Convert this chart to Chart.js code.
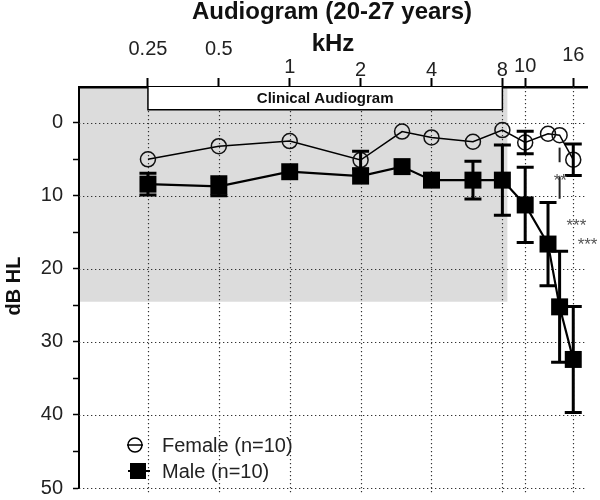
<!DOCTYPE html>
<html><head><meta charset="utf-8">
<script src="https://cdn.jsdelivr.net/npm/chart.js@4/dist/chart.umd.min.js"></script>
<style>html,body{margin:0;padding:0;background:#fff}canvas{display:block}</style>
</head><body>
<canvas id="c" width="600" height="500"></canvas>
<script>
// ---- data ----
const frequencies = [0.25, 0.5, 1, 2, 3, 4, 6, 8, 10, 12.5, 14, 16];
const femaleValues = [5.0, 3.2, 2.5, 5.1, 1.2, 2.0, 2.6, 1.0, 2.7, 1.5, 1.7, 5.05];
const femaleErrors = [0, 0, 0, 1.2, 0, 0, 0, 0, 1.55, 0, 0, 2.15];
const maleValues = [8.4, 8.7, 6.7, 7.3, 6.0, 7.85, 7.85, 7.85, 11.25, 16.6, 25.2, 32.4];
const maleErrors = [1.5, 1.3, 0, 0, 0, 0, 2.6, 4.8, 5.15, 5.7, 7.6, 7.25];
const xTickValues = [0.25, 0.5, 1, 2, 4, 8, 10, 16];
const xTickLabels = ['0.25', '0.5', '1', '2', '4', '8', '10', '16'];
const yTickValues = [0, 5, 10, 15, 20, 25, 30, 35, 40, 45, 50];
const yGridValues = [0, 10, 20, 30, 40, 50];
const clinicalRange = [0.25, 8];        // kHz
const clinicalBoxBottom = -1.8;         // dB HL
const shadedFreqMax = 8.4;              // kHz
const shadedDbMax = 24.5;               // dB HL
const sigLineFreq = [14, 14];
const sigLineFrom = [3.4, 7.4];
const sigLineTo = [5.4, 10.4];
const sigTextFreq = [14.1, 16.5, 18.4];
const sigTextDb = [7.3, 13.5, 16.1];
const sigTextLabels = ['**', '***', '***'];

const FONT = '"Liberation Sans", Arial, Helvetica, sans-serif';

// label vertical stagger (baseline y in px) for the top axis labels
const topLabelBaseline = {'0.25': 55, '0.5': 55, '1': 73, '2': 76, '4': 76, '8': 76, '10': 72, '16': 61};

function dotted(ctx) {
  ctx.strokeStyle = '#333';
  ctx.lineWidth = 1.2;
  ctx.setLineDash([1.3, 2.7]);
}

const drawPlugin = {
  id: 'audiogram',
  beforeDraw(chart) {
    const {ctx, chartArea: a, scales: {x, y}} = chart;
    ctx.save();
    ctx.fillStyle = '#fff';
    ctx.fillRect(0, 0, chart.width, chart.height);
    ctx.fillStyle = '#dcdcdc';
    const xr = x.getPixelForValue(shadedFreqMax);
    const yb = y.getPixelForValue(shadedDbMax);
    ctx.fillRect(a.left, a.top, xr - a.left, yb - a.top);
    ctx.restore();
  },
  beforeDatasetsDraw(chart) {
    const {ctx, chartArea: a, scales: {x, y}} = chart;
    ctx.save();
    dotted(ctx);
    xTickValues.forEach(v => {
      const px = Math.round(x.getPixelForValue(v)) + 0.5;
      ctx.beginPath(); ctx.moveTo(px, a.top); ctx.lineTo(px, a.bottom + 6); ctx.stroke();
    });
    yGridValues.forEach(v => {
      const py = Math.round(y.getPixelForValue(v)) + 0.5;
      ctx.beginPath(); ctx.moveTo(a.left, py); ctx.lineTo(a.right - 2, py); ctx.stroke();
    });
    ctx.setLineDash([]);
    // clinical audiogram box
    const x0 = x.getPixelForValue(clinicalRange[0]);
    const x1 = x.getPixelForValue(clinicalRange[1]);
    const yb = y.getPixelForValue(clinicalBoxBottom);
    ctx.fillStyle = '#fff';
    ctx.fillRect(x0, a.top, x1 - x0, yb - a.top);
    ctx.strokeStyle = '#000';
    ctx.lineWidth = 1.5;
    ctx.beginPath();
    ctx.moveTo(x0, a.top); ctx.lineTo(x0, yb); ctx.lineTo(x1, yb); ctx.lineTo(x1, a.top);
    ctx.stroke();
    ctx.fillStyle = '#111';
    ctx.font = 'bold 15px ' + FONT;
    ctx.textAlign = 'center';
    ctx.textBaseline = 'middle';
    ctx.fillText('Clinical Audiogram', (x0 + x1) / 2, (a.top + yb) / 2 + 1);
    ctx.restore();
  },
  afterDatasetsDraw(chart) {
    const {ctx, scales: {x, y}} = chart;
    ctx.save();
    // error bars
    const bars = [[femaleValues, femaleErrors], [maleValues, maleErrors]];
    ctx.strokeStyle = '#000';
    ctx.lineWidth = 3;
    bars.forEach(([vals, errs]) => {
      frequencies.forEach((f, i) => {
        if (!errs[i]) return;
        const px = x.getPixelForValue(f);
        const ya = y.getPixelForValue(vals[i] - errs[i]);
        const yb = y.getPixelForValue(vals[i] + errs[i]);
        ctx.beginPath();
        ctx.moveTo(px, ya); ctx.lineTo(px, yb);
        ctx.moveTo(px - 8.5, ya); ctx.lineTo(px + 8.5, ya);
        ctx.moveTo(px - 8.5, yb); ctx.lineTo(px + 8.5, yb);
        ctx.stroke();
      });
    });
    // significance marks
    ctx.strokeStyle = '#222';
    ctx.lineWidth = 2;
    sigLineFreq.forEach((f, i) => {
      const px = x.getPixelForValue(f);
      ctx.beginPath();
      ctx.moveTo(px, y.getPixelForValue(sigLineFrom[i]));
      ctx.lineTo(px, y.getPixelForValue(sigLineTo[i]));
      ctx.stroke();
    });
    ctx.fillStyle = '#555';
    ctx.font = '17px ' + FONT;
    ctx.textAlign = 'center';
    ctx.textBaseline = 'alphabetic';
    sigTextLabels.forEach((t, i) => {
      ctx.fillText(t, x.getPixelForValue(sigTextFreq[i]), y.getPixelForValue(sigTextDb[i]) + 10);
    });
    ctx.restore();
  },
  afterDraw(chart) {
    const {ctx, chartArea: a, scales: {x}} = chart;
    ctx.save();
    // top axis labels
    ctx.fillStyle = '#222';
    ctx.font = '20px ' + FONT;
    ctx.textAlign = 'center';
    ctx.textBaseline = 'alphabetic';
    xTickValues.forEach((v, i) => {
      ctx.fillText(xTickLabels[i], x.getPixelForValue(v), topLabelBaseline[xTickLabels[i]]);
    });
    // titles
    ctx.fillStyle = '#111';
    ctx.font = 'bold 24px ' + FONT;
    ctx.fillText('Audiogram (20-27 years)', 332, 19);
    ctx.fillText('kHz', 333, 51);
    ctx.save();
    ctx.translate(14, 286);
    ctx.rotate(-Math.PI / 2);
    ctx.font = 'bold 20px ' + FONT;
    ctx.textBaseline = 'middle';
    ctx.fillText('dB HL', 0, 0);
    ctx.restore();
    // legend
    ctx.strokeStyle = '#000';
    ctx.lineWidth = 1.5;
    ctx.beginPath(); ctx.moveTo(127, 445); ctx.lineTo(143, 445); ctx.stroke();
    ctx.beginPath(); ctx.arc(135, 445, 7, 0, Math.PI * 2); ctx.stroke();
    ctx.lineWidth = 2;
    ctx.beginPath(); ctx.moveTo(128, 471); ctx.lineTo(150, 471); ctx.stroke();
    ctx.fillStyle = '#000';
    ctx.fillRect(130, 463, 16, 16);
    ctx.fillStyle = '#222';
    ctx.font = '20px ' + FONT;
    ctx.textAlign = 'left';
    ctx.textBaseline = 'middle';
    ctx.fillText('Female (n=10)', 162, 446);
    ctx.fillText('Male (n=10)', 162, 472);
    ctx.restore();
  }
};

new Chart(document.getElementById('c'), {
  type: 'line',
  data: {
    datasets: [
      {
        label: 'Female (n=10)',
        data: frequencies.map((f, i) => ({x: f, y: femaleValues[i]})),
        borderColor: '#000', borderWidth: 1.5, tension: 0, fill: false,
        pointStyle: 'circle', pointRadius: 7.5, pointBorderWidth: 1.5,
        pointBackgroundColor: 'rgba(0,0,0,0)', pointBorderColor: '#111'
      },
      {
        label: 'Male (n=10)',
        data: frequencies.map((f, i) => ({x: f, y: maleValues[i]})),
        borderColor: '#000', borderWidth: 2.2, tension: 0, fill: false,
        pointStyle: 'rect', pointRadius: 12, pointBorderWidth: 0,
        pointBackgroundColor: '#000', pointBorderColor: '#000'
      }
    ]
  },
  options: {
    responsive: false,
    devicePixelRatio: 1,
    animation: false,
    layout: {padding: {left: 0, top: 0, right: 13, bottom: 9}},
    plugins: {legend: {display: false}, title: {display: false}, tooltip: {enabled: false}},
    scales: {
      x: {
        type: 'logarithmic', position: 'top',
        min: 0.1274, max: 18.3,
        afterBuildTicks: s => { s.ticks = xTickValues.map(v => ({value: v})); },
        afterFit: s => { s.height = 87; s.paddingLeft = 0; s.paddingRight = 0; },
        ticks: {display: false},
        grid: {drawOnChartArea: false, drawTicks: true, tickLength: 9, tickWidth: 2, tickColor: '#000'},
        border: {display: true, color: '#000', width: 2.5}
      },
      y: {
        type: 'linear', reverse: true,
        min: -4.9, max: 50,
        afterBuildTicks: s => { s.ticks = yTickValues.map(v => ({value: v})); },
        afterFit: s => { s.width = 79; s.paddingTop = 0; s.paddingBottom = 0; },
        ticks: {
          autoSkip: false, padding: 10, color: '#222',
          font: {size: 20, family: FONT, lineHeight: 0.4},
          callback: v => (v % 10 === 0 ? String(v) : '')
        },
        grid: {drawOnChartArea: false, drawTicks: true, tickLength: 6, tickWidth: 1.5, tickColor: '#000'},
        border: {display: true, color: '#000', width: 2}
      }
    }
  },
  plugins: [drawPlugin]
});
</script>
</body></html>
